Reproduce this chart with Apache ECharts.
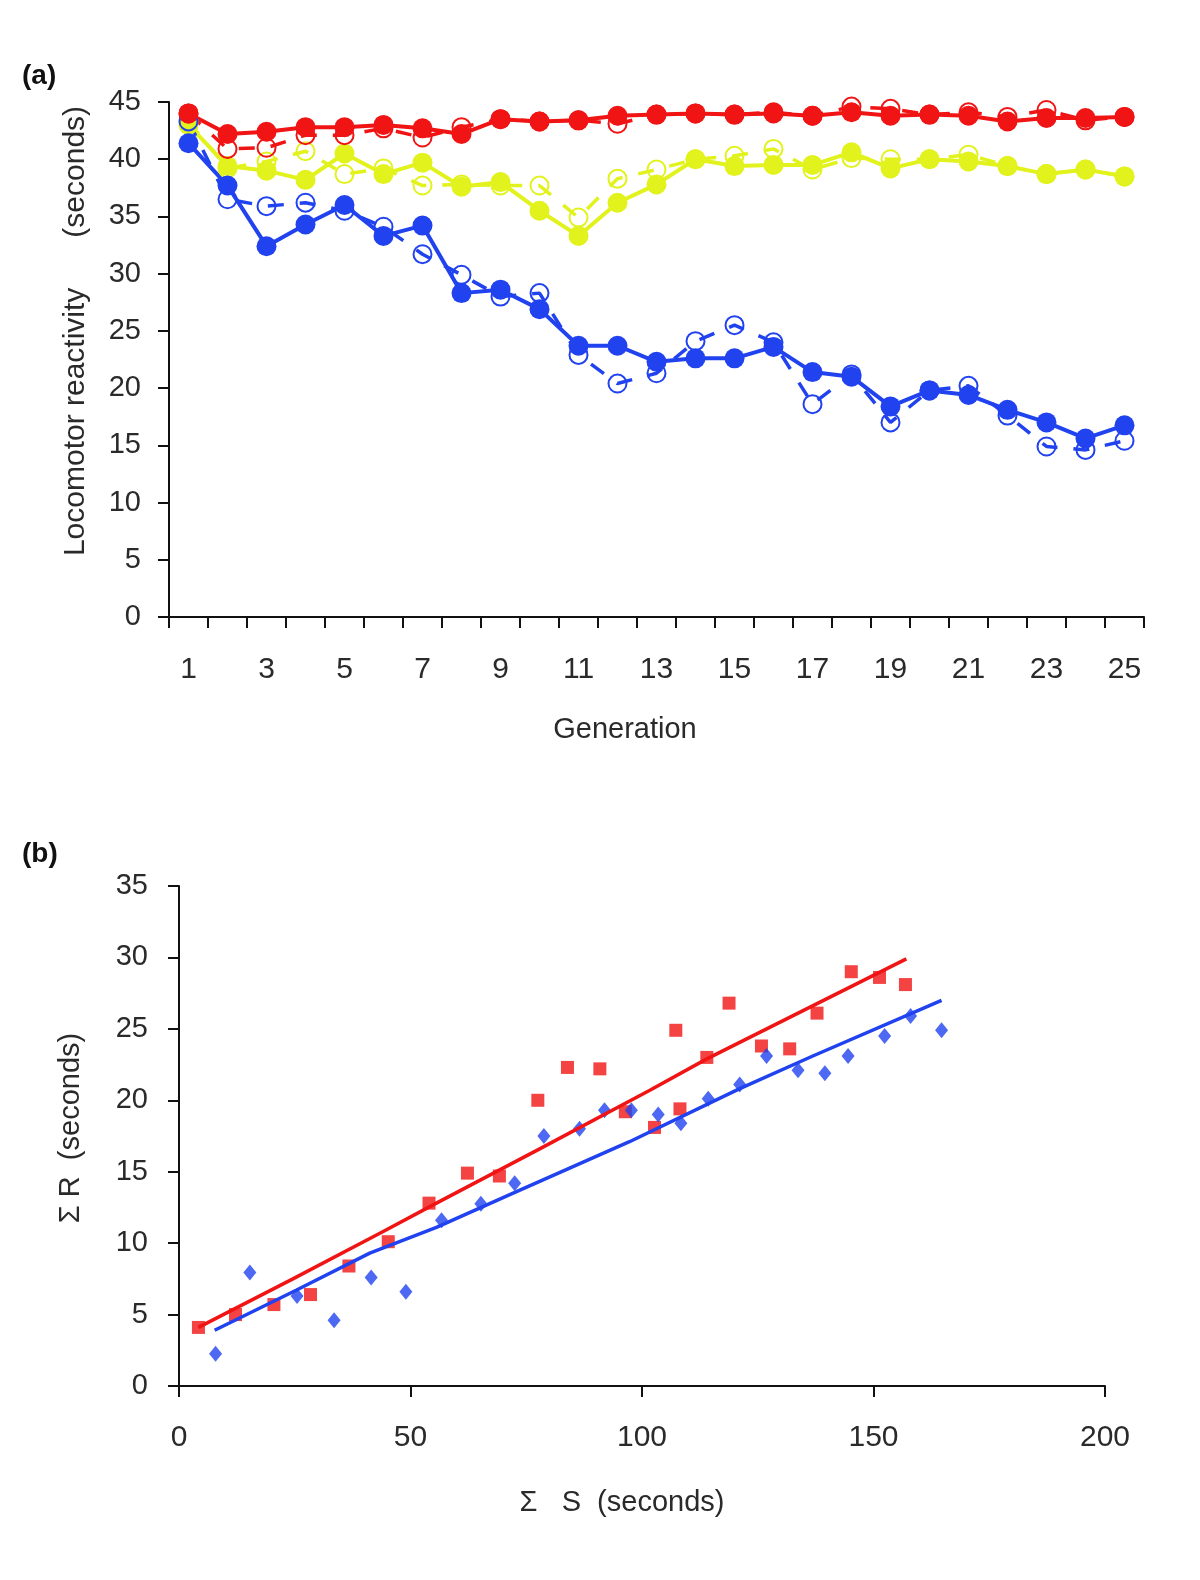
<!DOCTYPE html>
<html><head><meta charset="utf-8">
<script src="https://cdn.jsdelivr.net/npm/echarts@6/dist/echarts.min.js"></script>
<style>html,body{margin:0;padding:0;background:#fff}#c{width:1200px;height:1580px}</style>
</head><body><div id="c"></div>
<script>
// ---------- Panel (a) data ----------
const generations = ["1","2","3","4","5","6","7","8","9","10","11","12","13","14","15","16","17","18","19","20","21","22","23","24","25"];
const redFilled    = [44.0,42.2,42.4,42.8,42.8,43.0,42.7,42.2,43.5,43.3,43.4,43.8,43.9,44.0,43.9,44.0,43.8,44.1,43.8,43.9,43.8,43.3,43.6,43.6,43.7];
const redOpen      = [44.0,40.9,41.0,42.1,42.1,42.7,41.9,42.8,43.5,43.3,43.4,43.1,43.9,44.0,43.9,44.1,43.8,44.6,44.4,43.9,44.1,43.7,44.3,43.4,43.7];
const yellowFilled = [43.0,39.4,39.0,38.2,40.5,38.7,39.7,37.6,38.0,35.5,33.3,36.2,37.8,40.0,39.4,39.5,39.5,40.6,39.2,40.0,39.8,39.4,38.7,39.1,38.5];
const yellowOpen   = [43.3,39.2,39.8,40.7,38.7,39.2,37.7,37.8,37.7,37.7,34.9,38.3,39.1,40.0,40.3,40.9,39.1,40.1,40.0,40.0,40.4,39.4,38.7,39.1,38.5];
const blueFilled   = [41.4,37.7,32.4,34.3,36.0,33.3,34.2,28.3,28.6,26.9,23.7,23.7,22.3,22.6,22.6,23.6,21.4,21.0,18.4,19.8,19.4,18.1,17.0,15.6,16.75];
const blueOpen     = [43.3,36.5,35.9,36.2,35.5,34.1,31.7,29.9,28.0,28.3,22.9,20.4,21.3,24.1,25.5,24.0,18.6,21.2,17.0,19.8,20.2,17.6,14.9,14.6,15.4];
const yTicksA = {min:0, max:45, step:5};

// ---------- Panel (b) data ----------
const redSX  = [4.2,12.2,20.5,28.4,36.7,45.2,54.0,62.3,69.2,77.5,83.9,90.9,96.4,102.7,107.3,108.2,114.0,118.8,125.8,131.9,137.8,145.2,151.3,156.9];
const redRY  = [4.1,5.0,5.7,6.4,8.4,10.1,12.8,14.9,14.7,20.0,22.3,22.2,19.2,18.1,24.9,19.4,23.0,26.8,23.8,23.6,26.1,29.0,28.6,28.1];
const blueSX = [7.9,15.3,25.5,33.5,41.5,49.0,56.7,65.2,72.5,78.8,86.5,91.9,97.7,103.5,108.4,114.3,121.1,126.9,133.7,139.5,144.5,152.4,158.0,164.7];
const blueRY = [2.25,7.95,6.3,4.6,7.6,6.6,11.6,12.75,14.2,17.5,18.0,19.3,19.3,19.0,18.4,20.1,21.1,23.1,22.1,21.9,23.1,24.5,25.9,24.9];
const redFitX  = [4.2,24.6,44.0,55.6,77.9,101.7,114.0,157.1];
const redFitY  = [4.1,7.5,10.8,12.8,16.6,20.7,22.9,29.9];
const blueFitX = [7.7,25.3,41.2,55.6,72.9,97.3,121.0,136.9,164.7];
const blueFitY = [3.9,6.7,9.3,11.1,13.6,17.1,20.8,23.1,27.0];
const yTicksB = {min:0, max:35, step:5};
const xTicksB = {min:0, max:200, step:50};

const RED = '#f01414', YEL = '#e2f21c', BLUE = '#2142ef';
const TXT = '#2a2a2a';
const FONT = "'Liberation Sans', Arial, sans-serif";

const zip = (a, b) => a.map((v, i) => [v, b[i]]);

function filledLine(name, data, color) {
  return { name, type: 'line', xAxisIndex: 0, yAxisIndex: 0, data,
    symbol: 'circle', symbolSize: 20, showAllSymbol: true,
    itemStyle: { color }, lineStyle: { color, width: 4 },
    emphasis: { disabled: true }, animation: false };
}
function openLine(name, data, color) {
  return { name, type: 'line', xAxisIndex: 0, yAxisIndex: 0, data,
    symbol: 'circle', symbolSize: 18, showAllSymbol: true,
    itemStyle: { color: 'rgba(255,255,255,0)', borderColor: color, borderWidth: 2 },
    lineStyle: { color, width: 3.5, type: [16, 16] },
    emphasis: { disabled: true }, animation: false };
}

const axisLine = { show: true, onZero: false, lineStyle: { color: '#111', width: 2 } };
const axisTick = { show: true, inside: false, length: 11, lineStyle: { color: '#111', width: 2 } };

const option = {
  backgroundColor: '#fff',
  animation: false,
  grid: [
    { left: 169, top: 102, width: 975, height: 515 },
    { left: 179, top: 886, width: 926, height: 500 }
  ],
  xAxis: [
    { type: 'category', gridIndex: 0, data: generations, boundaryGap: true,
      axisLine, axisTick: Object.assign({}, axisTick, { interval: 0 }),
      axisLabel: { interval: 1, margin: 38, fontSize: 30, color: TXT, fontFamily: FONT },
      splitLine: { show: false } },
    { type: 'value', gridIndex: 1, min: xTicksB.min, max: xTicksB.max, interval: xTicksB.step,
      axisLine, axisTick,
      axisLabel: { margin: 37, fontSize: 30, color: TXT, fontFamily: FONT },
      splitLine: { show: false } }
  ],
  yAxis: [
    { type: 'value', gridIndex: 0, min: yTicksA.min, max: yTicksA.max, interval: yTicksA.step,
      axisLine, axisTick,
      axisLabel: { margin: 28, fontSize: 29, color: TXT, fontFamily: FONT },
      splitLine: { show: false } },
    { type: 'value', gridIndex: 1, min: yTicksB.min, max: yTicksB.max, interval: yTicksB.step,
      axisLine, axisTick,
      axisLabel: { margin: 31, fontSize: 29, color: TXT, fontFamily: FONT },
      splitLine: { show: false } }
  ],
  series: [
    openLine('Yellow open', yellowOpen, YEL),
    filledLine('Yellow filled', yellowFilled, YEL),
    openLine('Blue open', blueOpen, BLUE),
    filledLine('Blue filled', blueFilled, BLUE),
    openLine('Red open', redOpen, RED),
    filledLine('Red filled', redFilled, RED),
    { name: 'Red fit', type: 'line', xAxisIndex: 1, yAxisIndex: 1, data: zip(redFitX, redFitY),
      showSymbol: false, symbol: 'none', lineStyle: { color: RED, width: 3.5 }, emphasis: { disabled: true } },
    { name: 'Blue fit', type: 'line', xAxisIndex: 1, yAxisIndex: 1, data: zip(blueFitX, blueFitY),
      showSymbol: false, symbol: 'none', lineStyle: { color: BLUE, width: 3.5 }, emphasis: { disabled: true } },
    { name: 'Red points', type: 'scatter', xAxisIndex: 1, yAxisIndex: 1, data: zip(redSX, redRY),
      symbol: 'rect', symbolSize: 13, itemStyle: { color: RED }, emphasis: { disabled: true } },
    { name: 'Blue points', type: 'scatter', xAxisIndex: 1, yAxisIndex: 1, data: zip(blueSX, blueRY),
      symbol: 'diamond', symbolSize: [13, 16], itemStyle: { color: BLUE }, emphasis: { disabled: true } }
  ],
  graphic: [
    { type: 'text', x: 22, y: 76, style: { text: '(a)', font: "bold 28px " + FONT, fill: '#111', align: 'left', verticalAlign: 'middle' } },
    { type: 'text', x: 76, y: 331, rotation: Math.PI / 2,
      style: { text: 'Locomotor reactivity      (seconds)', font: "30px " + FONT, fill: TXT, align: 'center', verticalAlign: 'middle' } },
    { type: 'text', x: 625, y: 730, style: { text: 'Generation', font: "29px " + FONT, fill: TXT, align: 'center', verticalAlign: 'middle' } },
    { type: 'text', x: 22, y: 854, style: { text: '(b)', font: "bold 28px " + FONT, fill: '#111', align: 'left', verticalAlign: 'middle' } },
    { type: 'text', x: 71, y: 1128, rotation: Math.PI / 2,
      style: { text: 'Σ R  (seconds)', font: "29px " + FONT, fill: TXT, align: 'center', verticalAlign: 'middle' } },
    { type: 'text', x: 622, y: 1503, style: { text: 'Σ   S  (seconds)', font: "29px " + FONT, fill: TXT, align: 'center', verticalAlign: 'middle' } }
  ]
};

const chart = echarts.init(document.getElementById('c'), null, { renderer: 'canvas' });
chart.setOption(option);
</script>
</body></html>
